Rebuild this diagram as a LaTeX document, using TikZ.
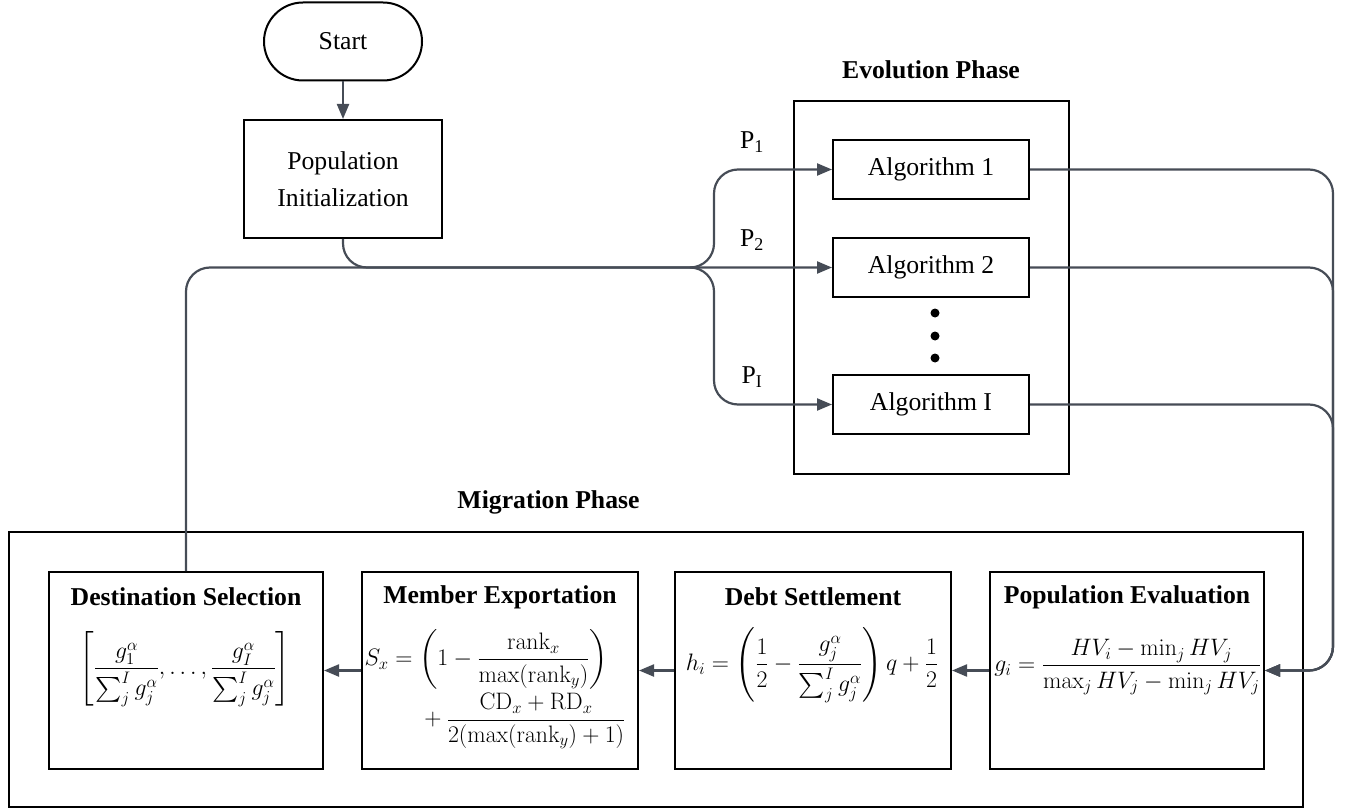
\RequirePackage{fix-cm}
\documentclass[tikz,border=0pt]{standalone}
\usepackage[no-math]{fontspec}
\setmainfont{Liberation Serif}
\usepackage{amsmath}
\usetikzlibrary{arrows.meta}
\definecolor{wire}{RGB}{70,76,86}
\begin{document}
\begin{tikzpicture}[x=1pt,y=-1pt,
  box/.style={draw=black, line width=2pt, inner sep=0pt},
  conn/.style={draw=wire, line width=2.2pt, rounded corners=24pt},
  tip/.style={-{Triangle[length=15pt,width=12pt]}},
  txt/.style={font=\fontsize{25.7}{37}\selectfont},
  ttl/.style={font=\fontsize{25.7}{31}\selectfont\bfseries, inner sep=0pt},
  eq/.style={font=\fontsize{23.8}{29}\selectfont, inner sep=0pt},
  algo/.style={box, txt, minimum width=196pt, minimum height=59pt},
  stage/.style={box, minimum width=274pt, minimum height=197pt},
  dot/.style={circle, fill=black, inner sep=0pt, minimum size=9pt}]
\useasboundingbox (0,0) rectangle (1346,810);

% start and initialisation
\node[box, txt, rounded corners=39pt, minimum width=158pt, minimum height=78pt] (start) at (343,41.5) {Start};
\node[box, txt, align=center, minimum width=198pt, minimum height=118pt] (init) at (343,179) {Population\\Initialization};

% evolution phase
\node[box, minimum width=275pt, minimum height=373pt] (evo) at (931.5,287.5) {};
\node[ttl] (evolbl) at (931,70) {Evolution Phase};
\node[algo] (a1) at (931,169.5) {Algorithm 1};
\node[algo] (a2) at (931,267.5) {Algorithm 2};
\node[algo] (aI) at (931,404.5) {Algorithm I};
\node[dot] (d1) at (935,313) {};
\node[dot] (d2) at (935,336) {};
\node[dot] (d3) at (935,358) {};
\node[txt, inner sep=0pt] (p1) at (752,142) {P\textsubscript{1}};
\node[txt, inner sep=0pt] (p2) at (752,240) {P\textsubscript{2}};
\node[txt, inner sep=0pt] (pI) at (752,377) {P\textsubscript{I}};

% migration phase
\node[box, minimum width=1294pt, minimum height=275pt] (mig) at (656,669.5) {};
\node[ttl] (miglbl) at (548.5,502) {Migration Phase};
\node[stage] (ds) at (186,670.5) {};
\node[stage, minimum width=276pt] (me) at (500,670.5) {};
\node[stage, minimum width=276pt] (dh) at (813,670.5) {};
\node[stage] (pe) at (1127,670.5) {};
\node[ttl] (dst) at (186,597) {Destination Selection};
\node[ttl] (met) at (500,597) {Member Exportation};
\node[ttl] (dht) at (813,597) {Debt Settlement};
\node[ttl] (pet) at (1127,597) {Population Evaluation};
\node[eq] (dsf) at (185,669) {$\displaystyle\left[\frac{g_1^\alpha}{\sum_j^I g_j^\alpha},\dots,\frac{g_I^\alpha}{\sum_j^I g_j^\alpha}\right]$};
\node[eq] (mef) at (495,689.5) {$\begin{aligned}
  S_x &= \left(1-\frac{\mathrm{rank}_x}{\max(\mathrm{rank}_y)}\right)\\
      &\hphantom{{}={}}{}+\frac{\mathrm{CD}_x+\mathrm{RD}_x}{2(\max(\mathrm{rank}_y)+1)}
  \end{aligned}$};
\node[eq] (dhf) at (812,665) {$\displaystyle h_i=\left(\frac{1}{2}-\frac{g_j^\alpha}{\sum_j^I g_j^\alpha}\right)q+\frac{1}{2}$};
\node[eq] (pef) at (1127.5,667) {$\displaystyle g_i=\frac{HV_i-\min_j HV_j}{\max_j HV_j-\min_j HV_j}$};

% connectors
\coordinate (split) at (690,267.5);
\coordinate (bus) at (714,267.5);
\coordinate (rail) at (1333,0);
\draw[conn, tip] (start) -- (init);
\draw[conn, tip] (init.south) |- (a2.west);
\draw[conn] (ds.north) |- (split);
\draw[conn, tip] (split) -| (bus |- a1.west) -- (a1.west);
\draw[conn, tip] (split) -| (bus |- aI.west) -- (aI.west);
\draw[conn, tip] (a1.east) -| (rail |- pe.east) -- (pe.east);
\draw[conn, tip] (a2.east) -| (rail |- pe.east) -- (pe.east);
\draw[conn, tip] (aI.east) -| (rail |- pe.east) -- (pe.east);
\draw[conn, tip] (pe.west) -- (dh.east);
\draw[conn, tip] (dh.west) -- (me.east);
\draw[conn, tip] (me.west) -- (ds.east);
\end{tikzpicture}
\end{document}
